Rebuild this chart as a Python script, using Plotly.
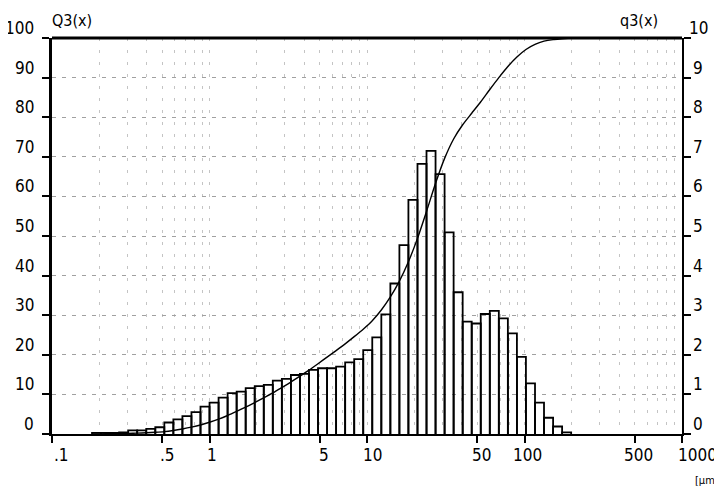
import math
import plotly.graph_objects as go

# ---- data ----
# bin edges in micrometres (54 edges -> 53 bins)
bin_edges = [0.1795, 0.2048, 0.2337, 0.2668, 0.3045, 0.3475, 0.3966, 0.4526, 0.5166, 0.5896,
             0.6730, 0.7681, 0.8767, 1.0005, 1.142, 1.303, 1.487, 1.697, 1.937, 2.211,
             2.523, 2.880, 3.287, 3.752, 4.282, 4.887, 5.578, 6.366, 7.266, 8.293,
             9.462, 10.80, 12.33, 14.07, 16.06, 18.32, 20.92, 23.87, 27.24, 31.09,
             35.48, 40.50, 46.22, 52.75, 60.21, 68.71, 78.42, 89.50, 102.1, 116.6,
             133.0, 151.9, 173.3, 197.8]
# density distribution q3(x), right axis
q3_values = [0.03, 0.03, 0.03, 0.04, 0.09, 0.09, 0.13, 0.17, 0.29, 0.37,
             0.45, 0.55, 0.69, 0.79, 0.92, 1.03, 1.07, 1.16, 1.21, 1.24,
             1.35, 1.39, 1.49, 1.52, 1.62, 1.66, 1.66, 1.70, 1.81, 1.89,
             2.12, 2.44, 3.02, 3.80, 4.77, 5.91, 6.82, 7.15, 6.56, 5.09,
             3.58, 2.84, 2.79, 3.03, 3.11, 2.92, 2.54, 1.95, 1.28, 0.79,
             0.41, 0.19, 0.04]
# cumulative distribution Q3(x) at the bin edges, left axis (%)
Q3_values = [0, 0.03, 0.06, 0.09, 0.13, 0.22, 0.31, 0.44, 0.61, 0.90,
             1.27, 1.72, 2.27, 2.96, 3.75, 4.67, 5.70, 6.77, 7.93, 9.14,
             10.38, 11.73, 13.12, 14.61, 16.13, 17.75, 19.41, 21.07, 22.77, 24.58,
             26.47, 28.6, 31.3, 34.6, 38.6, 43.5, 49.4, 56.2, 63.3, 69.6,
             74.5, 78.1, 81.0, 83.9, 87.0, 90.0, 92.8, 95.2, 97.1, 98.4,
             99.2, 99.6, 99.8, 100.0]

x_tick_vals = [0.1, 0.5, 1, 5, 10, 50, 100, 500, 1000]
x_tick_text = [".1", ".5", "1", "5", "10", "50", "100", "500", "1000"]
x_label_shift = [9, 5, 2.5, 4, 5, 4.5, 3, 3.5, 15]
x_minor_vals = [m * 10 ** d for d in range(-1, 3) for m in range(2, 10)] + [1, 10, 100]
left_ticks = list(range(0, 101, 10))
right_ticks = list(range(0, 11))

FONT = "Liberation Sans Narrow, DejaVu Sans Condensed, Arial Narrow, sans-serif"

# ---- histogram outline ----
bx, by = [], []
for i, h in enumerate(q3_values):
    a, b = bin_edges[i], bin_edges[i + 1]
    bx += [a, a, b, b, None]
    by += [0, h, h, 0, None]

fig = go.Figure()
fig.add_trace(go.Scatter(x=bx, y=by, mode="lines", yaxis="y2",
                         line=dict(color="black", width=1.8), hoverinfo="skip",
                         showlegend=False))
fig.add_trace(go.Scatter(x=bin_edges, y=Q3_values, mode="lines", yaxis="y",
                         line=dict(color="black", width=1.4, shape="spline", smoothing=0.6),
                         showlegend=False))

# the page body adds an 8px margin, so the figure is 714x482 inside the 722x490 window
fig.update_layout(
    width=714, height=482,
    margin=dict(l=44, r=40, t=30, b=56, autoexpand=False),
    paper_bgcolor="white", plot_bgcolor="white",
    font=dict(family=FONT, size=17, color="black"),
    xaxis=dict(type="log", range=[-1, 3], showline=True, linecolor="black", linewidth=2,
               ticks="outside", ticklen=7, tickwidth=1.5, tickcolor="black",
               tickvals=x_tick_vals, showticklabels=False,
               showgrid=True, gridcolor="#c4c4c4", gridwidth=1, griddash="3px,9px",
               minor=dict(tickvals=x_minor_vals, showgrid=True, gridcolor="#c4c4c4",
                          gridwidth=1, griddash="3px,9px", ticks=""),
               zeroline=False, fixedrange=True, automargin=False),
    yaxis=dict(range=[0, 100], tickvals=left_ticks, showticklabels=False,
               ticks="outside", ticklen=7, tickwidth=2, tickcolor="black",
               showline=True, linecolor="black", linewidth=3,
               showgrid=True, gridcolor="#a0a0a0", gridwidth=1, griddash="4px,6px",
               zeroline=False, automargin=False),
    yaxis2=dict(range=[0, 10], overlaying="y", side="right", tickvals=right_ticks,
                showticklabels=False, ticks="outside", ticklen=7, tickwidth=2,
                tickcolor="black", showline=True, linecolor="black", linewidth=2,
                showgrid=False, zeroline=False, automargin=False),
)

# top frame line
fig.add_shape(type="line", xref="paper", yref="paper", x0=0, x1=1, y0=1, y1=1,
              line=dict(color="black", width=3))

ann = []
for v in left_ticks:
    ann.append(dict(x=0, xref="paper", y=v, yref="y", text=str(v), showarrow=False,
                    xanchor="right", yanchor="middle", xshift=-16, yshift=10))
for v in right_ticks:
    ann.append(dict(x=1, xref="paper", y=v, yref="y2", text=str(v), showarrow=False,
                    xanchor="center", yanchor="middle", xshift=16, yshift=10))
for v, t, s in zip(x_tick_vals, x_tick_text, x_label_shift):
    ann.append(dict(x=math.log10(v), xref="x", y=0, yref="paper", text=t, showarrow=False,
                    xanchor="center", yanchor="middle", xshift=s, yshift=-21))
ann.append(dict(x=0, xref="paper", y=1, yref="paper", text="Q3(x)", showarrow=False,
                xanchor="left", yanchor="middle", xshift=-2, yshift=18, font=dict(size=16)))
ann.append(dict(x=1, xref="paper", y=1, yref="paper", text="q3(x)", showarrow=False,
                xanchor="right", yanchor="middle", xshift=-22, yshift=18, font=dict(size=16)))
ann.append(dict(x=1, xref="paper", y=0, yref="paper", text="[µm]", showarrow=False,
                xanchor="left", yanchor="middle", xshift=11, yshift=-46, font=dict(size=11)))
fig.update_layout(annotations=ann)

fig.write_html("out.html")
